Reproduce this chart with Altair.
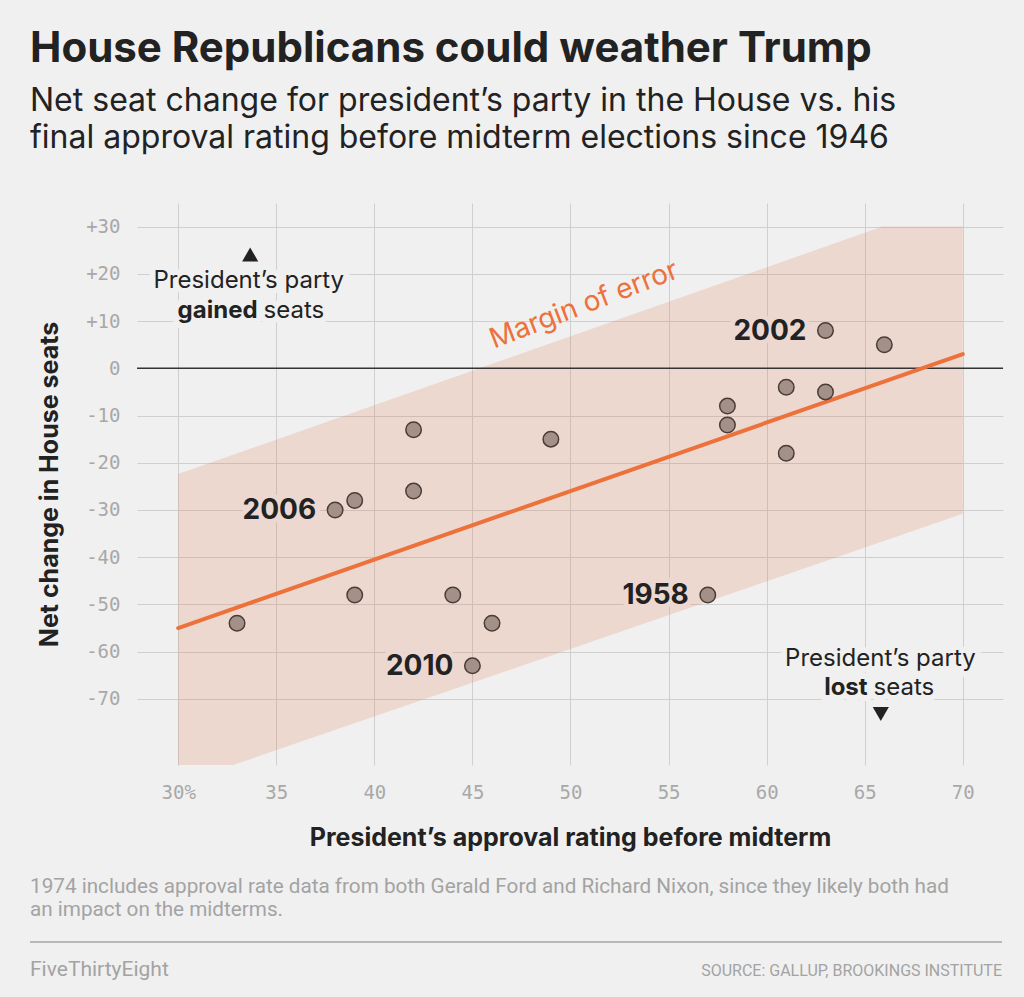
import altair as alt
import pandas as pd

# ---- data ----
approval = [33, 38, 39, 39, 42, 42, 44, 45, 46, 49, 57, 58, 58, 61, 61, 63, 63, 66]
seats = [-54, -30, -28, -48, -13, -26, -48, -63, -54, -15, -48, -8, -12, -4, -18, 8, -5, 5]
year_label = ["", "2006", "", "", "", "", "", "2010", "", "", "1958", "", "", "", "", "2002", "", ""]

fit_x = [30, 70]
fit_y = [-55, 3]

band_x = [30, 32.8, 65.9, 70]
band_hi = [-22.4, -18.3, 30, 30]
band_lo = [-84, -84, -36.7, -30.8]

x_ticks = [30, 35, 40, 45, 50, 55, 60, 65, 70]
y_ticks = [-70, -60, -50, -40, -30, -20, -10, 0, 10, 20, 30]

X_DOMAIN = [27.9, 72.05]
Y_DOMAIN = [-84, 35]

BG = "#f0f0f0"
BAND_BG = "#ecd8d0"
DARK = "#222222"
ORANGE = "#ed713a"
SANS = "Inter"
MONO = "DejaVu Sans Mono"
NARROW = "Roboto, sans-serif"

pts = pd.DataFrame({"approval": approval, "seats": seats, "label": year_label})
fit = pd.DataFrame({"approval": fit_x, "seats": fit_y})
band = pd.DataFrame({"approval": band_x, "hi": band_hi, "lo": band_lo})

xs = alt.Scale(domain=X_DOMAIN, nice=False, zero=False)
ys = alt.Scale(domain=Y_DOMAIN, nice=False, zero=False)

x_axis = alt.Axis(
    values=x_ticks,
    labelExpr="datum.value == 30 ? '30%' : datum.label",
    grid=True, gridColor="#cfcfcf", gridWidth=1,
    domain=False, ticks=False,
    labelFont=MONO, labelFontSize=19, labelColor="#a8a8a8", labelPadding=18,
    title="President’s approval rating before midterm",
    titleFont=SANS, titleFontSize=25, titleFontWeight="bold", titleColor=DARK,
    titlePadding=23,
)
y_axis = alt.Axis(
    values=y_ticks,
    labelExpr="datum.value > 0 ? '+' + datum.value : (datum.value < 0 ? '-' + abs(datum.value) : '0')",
    grid=True, gridColor="#cfcfcf", gridWidth=1,
    domain=False, ticks=False,
    labelFont=MONO, labelFontSize=19, labelColor="#a8a8a8", labelPadding=17,
    title="Net change in House seats",
    titleFont=SANS, titleFontSize=25, titleFontWeight="bold", titleColor=DARK,
    titlePadding=23,
)

band_layer = alt.Chart(band).mark_area(color="#e07a50", opacity=0.2).encode(
    x=alt.X("approval:Q", scale=xs, axis=x_axis),
    y=alt.Y("hi:Q", scale=ys, axis=y_axis),
    y2="lo:Q",
)

zero_rule = alt.Chart(pd.DataFrame({"seats": [0]})).mark_rule(color="#333333", strokeWidth=1.5).encode(
    y=alt.Y("seats:Q", scale=ys)
)

fit_line = alt.Chart(fit).mark_line(color=ORANGE, strokeWidth=4, strokeCap="round").encode(
    x=alt.X("approval:Q", scale=xs), y=alt.Y("seats:Q", scale=ys)
)

points = alt.Chart(pts).mark_circle(size=240, color="#a39189", opacity=1, stroke="#4a3c36", strokeWidth=1.5).encode(
    x=alt.X("approval:Q", scale=xs), y=alt.Y("seats:Q", scale=ys)
)

lab = pts[pts["label"] != ""]
label_halo = alt.Chart(lab).mark_text(
    align="right", baseline="middle", dx=-19, dy=1, font=SANS, fontSize=28, fontWeight="bold",
    stroke=BAND_BG, strokeWidth=10, fill=BAND_BG, strokeJoin="round",
).encode(x=alt.X("approval:Q", scale=xs), y=alt.Y("seats:Q", scale=ys), text="label:N")
labels = alt.Chart(lab).mark_text(
    align="right", baseline="middle", dx=-19, dy=1, font=SANS, fontSize=28, fontWeight="bold", color=DARK,
).encode(x=alt.X("approval:Q", scale=xs), y=alt.Y("seats:Q", scale=ys), text="label:N")

moe = alt.Chart(pd.DataFrame({"approval": [50.7], "seats": [13.3], "t": ["Margin of error"]})).mark_text(
    angle=339, align="center", baseline="middle", font=SANS, fontSize=28, color=ORANGE,
).encode(x=alt.X("approval:Q", scale=xs), y=alt.Y("seats:Q", scale=ys), text="t:N")

# annotations
ann_center = pd.DataFrame({
    "approval": [33.6, 65.8],
    "seats": [18.4, -61.6],
    "t": ["President’s party", "President’s party"],
})
ann_bold = pd.DataFrame({"approval": [34.2, 65.3], "seats": [12.2, -67.8], "t": ["gained", "lost"]})
ann_reg = pd.DataFrame({"approval": [34.2, 65.3], "seats": [12.2, -67.8], "t": ["seats", "seats"]})
arrows = pd.DataFrame({"approval": [33.67, 65.82], "seats": [24.1, -73.2], "shape": ["triangle-up", "triangle-down"]})

def txt(df, halo=False, **kw):
    base = dict(baseline="middle", font=SANS, fontSize=24)
    base.update(kw)
    if halo:
        base.update(stroke=BG, strokeWidth=12, fill=BG, strokeJoin="round")
    else:
        base.update(color=DARK)
    return alt.Chart(df).mark_text(**base).encode(
        x=alt.X("approval:Q", scale=xs), y=alt.Y("seats:Q", scale=ys), text="t:N"
    )

ann_layers = []
for halo in (True, False):
    ann_layers.append(txt(ann_center, halo, align="center"))
    ann_layers.append(txt(ann_bold, halo, align="right", dx=-3, fontWeight="bold"))
    ann_layers.append(txt(ann_reg, halo, align="left", dx=3))

arrow_layer = alt.Chart(arrows).mark_point(filled=True, size=260, color=DARK, opacity=1).encode(
    x=alt.X("approval:Q", scale=xs), y=alt.Y("seats:Q", scale=ys),
    shape=alt.Shape("shape:N", scale=None, legend=None),
)

# footer
note_text = ["1974 includes approval rate data from both Gerald Ford and Richard Nixon, since they likely both had",
             "an impact on the midterms."]
note = alt.Chart(pd.DataFrame({"t": [note_text]})).mark_text(
    align="left", baseline="alphabetic", font=NARROW, fontSize=20.7, color="#a3a3a3", lineHeight=23,
).encode(x=alt.value(-107), y=alt.value(690), text="t")

foot_rule = alt.Chart(pd.DataFrame({"a": [0]})).mark_rule(color="#b8b8b8", strokeWidth=2).encode(
    x=alt.value(-107), x2=alt.value(865), y=alt.value(739)
)
brand = alt.Chart(pd.DataFrame({"t": ["FiveThirtyEight"]})).mark_text(
    align="left", baseline="alphabetic", font=NARROW, fontSize=21, color="#a3a3a3",
).encode(x=alt.value(-107), y=alt.value(773), text="t:N")
source = alt.Chart(pd.DataFrame({"t": ["SOURCE: GALLUP, BROOKINGS INSTITUTE"]})).mark_text(
    align="right", baseline="alphabetic", font=NARROW, fontSize=16, color="#a3a3a3",
).encode(x=alt.value(865), y=alt.value(773), text="t:N")

chart = alt.layer(
    band_layer, zero_rule, fit_line, moe, *ann_layers, arrow_layer, points, label_halo, labels,
    note, foot_rule, brand, source,
).properties(
    width=866, height=562,
    autosize=alt.AutoSizeParams(type="none"),
    padding={"left": 137, "top": 203, "right": 21, "bottom": 232},
    background=BG,
    title=alt.TitleParams(
        text="House Republicans could weather Trump",
        subtitle=["Net seat change for president’s party in the House vs. his",
                  "final approval rating before midterm elections since 1946"],
        anchor="start", frame="group", dx=-107, offset=48,
        font=SANS, fontSize=42, fontWeight="bold", color=DARK,
        subtitleFont=SANS, subtitleFontSize=32, subtitleColor=DARK,
        subtitleLineHeight=37, subtitlePadding=15,
    ),
).configure_view(stroke=None)

chart.save("out.html", embed_options={"renderer": "svg", "actions": False})
